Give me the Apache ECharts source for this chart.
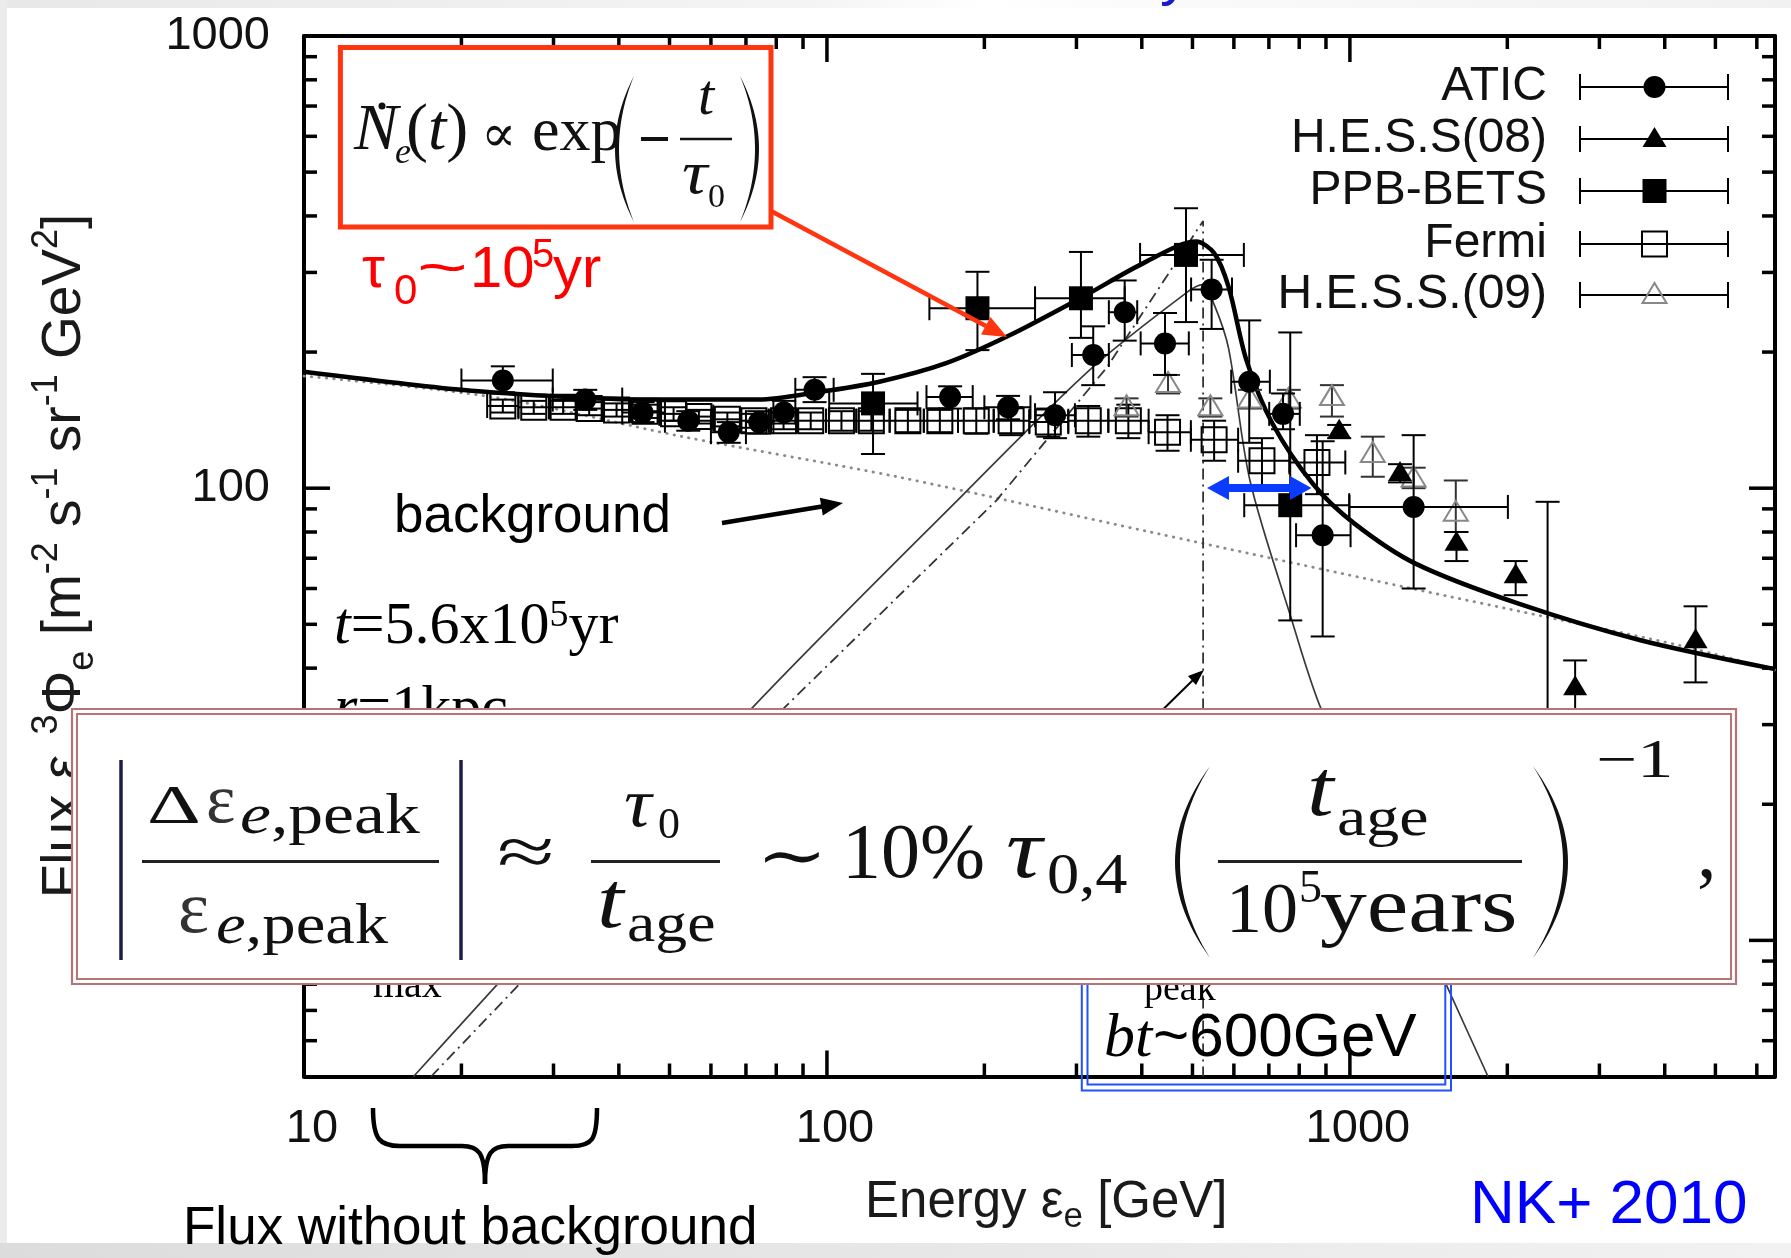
<!DOCTYPE html>
<html><head><meta charset="utf-8">
<script src="https://cdn.jsdelivr.net/npm/echarts@6/dist/echarts.min.js"></script>
<style>html,body{margin:0;padding:0;background:#fff}#c{width:1791px;height:1258px}</style>
</head><body><div id="c"></div>
<script>
// ---------- axis ranges & ticks ----------
const X_MIN = 10, X_MAX = 6500, Y_MIN = 5, Y_MAX = 1000;
const xTickLabels = [10, 100, 1000];
const yTickLabels = [10, 100, 1000];
const xMajorTicks = [100, 1000];
const xMinorTicks = [20,30,40,50,60,70,80,90,200,300,400,500,600,700,800,900,2000,3000,4000,5000,6000];
const yMajorTicks = [10, 100];
const yMinorTicks = [6,7,8,9,20,30,40,50,60,70,80,90,200,300,400,500,600,700,800,900];

// ---------- model curves (energy GeV, flux) ----------
const totalE = [10,20,32,45,74,96,126,169,222,305,408,508,550,586,634,711,851,1019,1335,2095,3595,6500];
const totalF = [181,165,159,157,157,163,172,189,217,263,317,351,331,279,192,139,102,83.6,68.1,55.6,46.1,39.8];
const bgE = [10,23,53,136,415,1312,2376,4305,6500];
const bgF = [177,159,130,106,80,60,51.9,44.8,39.6];
const srcE = [16.2,71.3,183,322,494,522,550,586,644,771,883,1523,1837];
const srcF = [5.0,32.3,97.3,185,274,282,255,204,104,51.9,32.3,8.05,5.0];
const burstE = [17.5,82,211,343,524,524];
const burstF = [5,32.3,94,185,390,5];

// ---------- data: [E, F, Elow, Ehigh, Flow, Fhigh] ----------
const aticData = [
 [24.0,173,20.0,29.9,163,186],[34.5,157,29.9,40.6,149,165],[44.4,147,40.6,49.0,140,155],
 [54.3,141,49.0,60.0,134,148],[64.9,133,60.0,70.0,126,140],[74.2,140,70.0,79.0,132,148],
 [82.7,147,79.0,87.0,139,156],[94.7,165,87.0,103,155,176],[172,159,155,190,150,168],
 [222,151,200,245,142,160],[273,145,250,298,129,163],[323,197,294,346,169,228],
 [371,245,346,392,212,288],[443,209,398,492,178,244],[544,275,497,595,225,320],
 [642,172,593,703,126,235],[745,146,701,802,135,162],[887,78.7,789,1003,47,127],
 [1324,90.9,998,2005,60,131],[2388,28,2000,2850,10,93.3]
];
const hess08Data = [
 [954,134,954,954,129,138],[1247,108,1247,1247,103,113],[1599,75.7,1599,1599,69,80],
 [2075,64.2,2075,2075,58,69],[2696,36.3,2696,2696,31,41.6],[4582,46.1,4582,4582,37.2,54.8]
];
const ppbData = [
 [122.5,154,101,149,119,179],[194,250,157,250,202,301],[306,263,250,371,215,333],
 [486,328,397,627,233,416],[769,91.7,628,997,51,221]
];
const fermiData = [
 [24.0,152,22.4,25.7,147,157],[27.5,151,25.7,29.4,146,156],[31.3,151,29.4,33.2,146,156],
 [35.1,150,33.2,37.3,145,155],[39.6,149,37.3,42.2,144,154],[44.9,148,42.2,47.8,143,153],
 [50.9,146,47.8,53.8,141,151],[56.9,144,53.8,60.6,139,149],[64.5,142,60.6,68.4,137,147],
 [72.5,141,68.4,77.4,136,146],[82.6,141,77.4,87.7,135,147],[93.1,141,87.7,99.6,135,147],
 [106.6,141,99.6,113.8,134,148],[121.6,141,113.8,131.8,134,148],[142.8,141,131.8,153.2,133,149],
 [164.4,141,153.2,178.1,133,149],[193,141,178.1,208.4,132,150],[225,141,208.4,243.8,131,151],
 [265,140,243.8,289.4,130,150],[316,141,289.4,345.2,130,152],[377,141,345.2,412.2,129,153],
 [448,133,412.2,496.5,121,145],[550,128,496.5,611.3,115,141],[679,115,611.3,766.3,101,129],
 [865,114,766.3,980,97,131]
];
const hess09Data = [
 [374,151,374,374,144,158],[449,170,449,449,162,178],[541,151,541,541,144,158],
 [644,157,644,644,150,165],[764,157,764,764,150,165],[924,159,924,924,144,169],
 [1106,119,1106,1106,106,130],[1324,105,1324,1324,100,111],[1594,88.2,1594,1594,80,104]
];
const legendNames = ['ATIC','H.E.S.S(08)','PPB-BETS','Fermi','H.E.S.S.(09)'];

// ---------- helpers ----------
const SANS = '"Liberation Sans", Arial, sans-serif';
const SERIF = '"Liberation Serif", "Times New Roman", "DejaVu Serif", serif';
function zip(a,b){return a.map((v,i)=>[v,b[i]]);}
const CAP = 12;
function markerEl(kind, cx, cy){
  switch(kind){
    case 'circle': return {type:'circle',shape:{cx:cx,cy:cy,r:11},style:{fill:'#000',stroke:'none'}};
    case 'square': return {type:'rect',shape:{x:cx-12,y:cy-12,width:24,height:24},style:{fill:'#000',stroke:'none'}};
    case 'osquare': return {type:'rect',shape:{x:cx-12.5,y:cy-12.5,width:25,height:25},style:{fill:'none',stroke:'#000',lineWidth:2}};
    case 'triangle': return {type:'polygon',shape:{points:[[cx,cy-12],[cx-12,cy+8],[cx+12,cy+8]]},style:{fill:'#000',stroke:'none'}};
    case 'otriangle': return {type:'polygon',shape:{points:[[cx,cy-12],[cx-12,cy+8],[cx+12,cy+8]]},style:{fill:'none',stroke:'#888',lineWidth:2}};
  }
}
function errSeries(name, data, kind, barColor, z){
  return {
    type:'custom', name:name, data:data, z:z, silent:true, encode:{x:0,y:1},
    renderItem:function(params, api){
      const E=api.value(0),F=api.value(1),El=api.value(2),Eh=api.value(3),Fl=api.value(4),Fh=api.value(5);
      const p=api.coord([E,F]);
      const st={stroke:barColor,lineWidth:2,fill:'none'};
      const ch=[];
      if(El!==Eh){
        const a=api.coord([El,F]), b=api.coord([Eh,F]);
        ch.push({type:'line',shape:{x1:a[0],y1:p[1],x2:b[0],y2:p[1]},style:st});
        ch.push({type:'line',shape:{x1:a[0],y1:p[1]-CAP,x2:a[0],y2:p[1]+CAP},style:st});
        ch.push({type:'line',shape:{x1:b[0],y1:p[1]-CAP,x2:b[0],y2:p[1]+CAP},style:st});
      }
      if(Fl!==Fh){
        const a=api.coord([E,Fl]), b=api.coord([E,Fh]);
        ch.push({type:'line',shape:{x1:p[0],y1:a[1],x2:p[0],y2:b[1]},style:st});
        ch.push({type:'line',shape:{x1:p[0]-CAP,y1:a[1],x2:p[0]+CAP,y2:a[1]},style:st});
        ch.push({type:'line',shape:{x1:p[0]-CAP,y1:b[1],x2:p[0]+CAP,y2:b[1]},style:st});
      }
      ch.push(markerEl(kind,p[0],p[1]));
      return {type:'group',children:ch};
    }
  };
}
function tickSeries(vals, isX, len){
  return {
    type:'custom', silent:true, z:4, encode:{x:0,y:1},
    data: vals.map(v => isX ? [v, 100] : [100, v]),
    renderItem:function(params, api){
      const st={stroke:'#000',lineWidth:3.5};
      if(isX){
        const v=api.value(0); const b=api.coord([v,Y_MIN]); const t=api.coord([v,Y_MAX]);
        return {type:'group',children:[
          {type:'line',shape:{x1:b[0],y1:b[1],x2:b[0],y2:b[1]-len},style:st},
          {type:'line',shape:{x1:t[0],y1:t[1],x2:t[0],y2:t[1]+len},style:st}]};
      } else {
        const v=api.value(1); const l=api.coord([X_MIN,v]); const r=api.coord([X_MAX,v]);
        return {type:'group',children:[
          {type:'line',shape:{x1:l[0],y1:l[1],x2:l[0]+len,y2:l[1]},style:st},
          {type:'line',shape:{x1:r[0],y1:r[1],x2:r[0]-len,y2:r[1]},style:st}]};
      }
    }
  };
}
function isPow10(v){const l=Math.log10(v);return Math.abs(l-Math.round(l))<1e-6;}
function T(x,B,text,size,family,opt){
  opt=opt||{};
  const el={type:'text',x:x,y:B-0.35*size,z:opt.z||61,
    style:{text:text,fill:opt.color||'#111',font:(opt.italic?'italic ':'')+size+'px '+family,
      align:opt.align||'left',verticalAlign:'middle'}};
  if(opt.scaleX){el.scaleX=opt.scaleX;}
  return el;
}
function L(x1,y1,x2,y2,color,w,z){return {type:'line',z:z,shape:{x1:x1,y1:y1,x2:x2,y2:y2},style:{stroke:color,lineWidth:w}};}
function poly(pts,fill,z){return {type:'polygon',z:z,shape:{points:pts},style:{fill:fill}};}
function quad(p0,c,p2,n){const o=[];for(let i=0;i<=n;i++){const t=i/n,u=1-t;o.push([u*u*p0[0]+2*u*t*c[0]+t*t*p2[0],u*u*p0[1]+2*u*t*c[1]+t*t*p2[1]]);}return o;}
function paren(xEnd,yTop,yBot,cOut,cIn,z){
  const ym=(yTop+yBot)/2;
  const a=quad([xEnd,yTop],[cOut,ym],[xEnd,yBot],30);
  const b=quad([xEnd,yBot],[cIn,ym],[xEnd,yTop],30);
  return poly(a.concat(b),'#111',z);
}
function bez(x1,y1,c1x,c1y,c2x,c2y,x2,y2,w,z){return {type:'bezierCurve',z:z,shape:{x1:x1,y1:y1,cpx1:c1x,cpy1:c1y,cpx2:c2x,cpy2:c2y,x2:x2,y2:y2},style:{stroke:'#000',lineWidth:w,fill:'none'}};}

// ---------- graphic overlays ----------
const G = [];
G.push({type:'rect',z:0,shape:{x:0,y:0,width:1791,height:8},style:{fill:new echarts.graphic.LinearGradient(0,0,1,0,[{offset:0,color:'#e8e8e8'},{offset:0.45,color:'#f4f4f4'},{offset:0.55,color:'#ffffff'},{offset:0.66,color:'#fafafa'},{offset:1,color:'#f1f1f1'}])}});
G.push({type:'rect',z:0,shape:{x:0,y:0,width:7,height:1258},style:{fill:'#ebebeb'}});
G.push({type:'rect',z:0,shape:{x:0,y:1243,width:1791,height:15},style:{fill:new echarts.graphic.LinearGradient(0,0,1,0,[{offset:0,color:'#dcdcdc'},{offset:1,color:'#f2f2f2'}])}});
G.push({type:'text',z:1,x:1160,y:-23,style:{text:'y',fill:'#1a1acc',font:'60px '+SANS,align:'left',verticalAlign:'middle'}});

// axis titles
G.push({type:'text',z:20,x:65,y:556,rotation:Math.PI/2,style:{
  text:'{m|Flux ε}{s|e}{p|3}{m|Φ}{s|e}{m| [m}{p|-2}{m| s}{p|-1}{m| sr}{p|-1}{m| GeV}{p|2}{m|]}',
  align:'center',verticalAlign:'middle',
  rich:{m:{fontSize:55,fontFamily:SANS,fill:'#1a1a1a',lineHeight:72},
        p:{fontSize:36,fontFamily:SANS,fill:'#1a1a1a',lineHeight:38,verticalAlign:'top'},
        s:{fontSize:36,fontFamily:SANS,fill:'#1a1a1a',lineHeight:38,verticalAlign:'bottom'}}}});
G.push({type:'text',z:20,x:865,y:1203,style:{
  text:'{m|Energy ε}{s|e}{m| [GeV]}',align:'left',verticalAlign:'middle',
  rich:{m:{fontSize:51,fontFamily:SANS,fill:'#1a1a1a',lineHeight:64},
        s:{fontSize:35,fontFamily:SANS,fill:'#1a1a1a',lineHeight:34,verticalAlign:'bottom'}}}});

// legend
const legendKinds = ['circle','triangle','square','osquare','otriangle'];
const legendRowY = [87,139,191,244,295];
legendNames.forEach((nm,i)=>{
  const y=legendRowY[i];
  G.push({type:'text',z:40,x:1547,y:y,style:{text:nm,fill:'#111',font:'48px '+SANS,align:'right',verticalAlign:'middle'}});
  G.push(L(1580,y,1728,y,'#000',2,40));
  G.push(L(1580,y-13,1580,y+13,'#000',2,40));
  G.push(L(1728,y-13,1728,y+13,'#000',2,40));
  const m=markerEl(legendKinds[i],1654.5,y); m.z=41; G.push(m);
});

// red box formula
G.push({type:'rect',z:60,shape:{x:340.4,y:47.4,width:430.6,height:179.6},style:{fill:'#fff',stroke:'#ff3510',lineWidth:5}});
G.push(T(354,155,'N',66,SERIF,{italic:true}));
G.push({type:'circle',z:61,shape:{cx:382,cy:106,r:3.5},style:{fill:'#111'}});
G.push(T(395,166,'e',36,SERIF,{italic:true}));
G.push({type:'text',z:61,x:406,y:155-23,style:{text:'{u|(}{i|t}{u|)}',align:'left',verticalAlign:'middle',
  rich:{u:{fontSize:66,fontFamily:SERIF,fill:'#111'},i:{fontSize:66,fontFamily:SERIF,fontStyle:'italic',fill:'#111'}}}});
G.push({type:'text',z:61,x:481,y:137,style:{text:'∝',fill:'#111',font:'52px '+SERIF,align:'left',verticalAlign:'middle'}});
G.push(T(532,155,'exp',62,SERIF));
G.push(paren(634,76,222,596,604,61));
G.push(L(641,139,668,139,'#111',4,61));
G.push(L(680,139,732,139,'#111',2.5,61));
G.push(T(706,119,'t',58,SERIF,{italic:true,align:'center'}));
G.push(T(682,198,'τ',62,SERIF,{italic:true,scaleX:1.15}));
G.push(T(708,210,'0',34,SERIF));
G.push(paren(740,76,222,778,770,61));
// red arrow
G.push(L(771,211,986,326,'#ff3510',4.5,45));
G.push(poly([[1007,337],[981,334.5],[990.5,316.9]],'#ff3510',45));
G.push(T(362,291,'τ',58,SANS,{color:'#ff0000',z:45}));
G.push(T(394,307,'0',42,SANS,{color:'#ff0000',z:45}));
G.push(T(417,291,'~',58,SANS,{color:'#ff0000',z:45,scaleX:1.5}));
G.push(T(470,291,'10',58,SANS,{color:'#ff0000',z:45}));
G.push(T(532,270,'5',40,SANS,{color:'#ff0000',z:45}));
G.push(T(553,291,'yr',58,SANS,{color:'#ff0000',z:45}));

// background label + arrow
G.push(T(394,536,'background',53,SANS,{color:'#000',z:45}));
G.push(L(722,523,822,506.5,'#000',4.5,45));
G.push(poly([[843,503],[822.8,515.5],[819.8,497.7]],'#000',45));

// blue double arrow
G.push(poly([[1207,488],[1229,476],[1229,484],[1290,484],[1290,476],[1311.5,488],[1290,500],[1290,492],[1229,492],[1229,500]],'#0a3cff',45));
// small arrow to the cutoff line
G.push(L(1140,732,1193,680,'#000',2,30));
G.push(poly([[1204,670],[1196,685.1],[1188,676.1]],'#000',30));

// parameters partly hidden behind formula box
G.push({type:'text',z:30,x:334,y:648-21,style:{text:'{i|t}{m|=5.6x10}{p|5}{m|yr}',align:'left',verticalAlign:'middle',
  rich:{i:{fontSize:60,fontFamily:SERIF,fontStyle:'italic',fill:'#000',lineHeight:60},m:{fontSize:60,fontFamily:SERIF,fill:'#000',lineHeight:60},
        p:{fontSize:38,fontFamily:SERIF,fill:'#000',lineHeight:38,verticalAlign:'top'}}}});
G.push({type:'text',z:30,x:334,y:731-21,style:{text:'{i|r}{m|=1kpc}',align:'left',verticalAlign:'middle',
  rich:{i:{fontSize:60,fontFamily:SERIF,fontStyle:'italic',fill:'#000'},m:{fontSize:60,fontFamily:SERIF,fill:'#000'}}}});
G.push(T(334,987,'E',60,SERIF,{italic:true,color:'#000',z:30}));
G.push(T(373,1000,'max',40,SERIF,{color:'#000',z:30}));
G.push(T(450,988,'~10TeV',60,SERIF,{color:'#000',z:30}));
// blue box
G.push({type:'rect',z:30,shape:{x:1081.8,y:900,width:369.2,height:190.5},style:{fill:'none',stroke:'#2050ff',lineWidth:2}});
G.push({type:'rect',z:30,shape:{x:1087.5,y:905,width:357.8,height:179.5},style:{fill:'none',stroke:'#2050ff',lineWidth:2}});
G.push(T(1102,987,'E',60,SERIF,{italic:true,color:'#000',z:30}));
G.push(T(1144,1003,'peak',38,SERIF,{color:'#000',z:30}));
G.push(T(1232,987,'~ 1/',60,SANS,{color:'#000',z:30}));
G.push(T(1104,1061,'bt',62,SERIF,{italic:true,color:'#000',z:30}));
G.push(T(1153,1061,'~600GeV',62,SANS,{color:'#000',z:30}));

// big formula box
G.push({type:'rect',z:60,shape:{x:72,y:709,width:1664,height:275},style:{fill:'#fff',stroke:'#b87474',lineWidth:2.2}});
G.push({type:'rect',z:60,shape:{x:77,y:714,width:1654,height:265},style:{fill:'none',stroke:'#b87474',lineWidth:2}});
G.push(L(121,760,121,960,'#1c1c48',3.5,61));
G.push(T(147,828,'Δ',54,SERIF,{scaleX:1.55}));
G.push(T(206,828,'ε',70,SERIF,{color:'#333'}));
G.push({type:'text',z:61,x:240,y:838-20,scaleX:1.2,style:{text:'{i|e}{u|,peak}',align:'left',verticalAlign:'middle',
  rich:{i:{fontSize:58,fontFamily:SERIF,fontStyle:'italic',fill:'#111'},u:{fontSize:58,fontFamily:SERIF,fill:'#111'}}}});
G.push(L(142,861.5,439,861.5,'#222',3,61));
G.push(T(178,938,'ε',74,SERIF,{color:'#333'}));
G.push({type:'text',z:61,x:216,y:948-20,scaleX:1.15,style:{text:'{i|e}{u|,peak}',align:'left',verticalAlign:'middle',
  rich:{i:{fontSize:58,fontFamily:SERIF,fontStyle:'italic',fill:'#111'},u:{fontSize:58,fontFamily:SERIF,fill:'#111'}}}});
G.push(L(461,760,461,960,'#1c1c48',3.5,61));
G.push({type:'text',z:61,x:497,y:857,scaleX:1.5,style:{text:'≈',fill:'#111',font:'70px '+SERIF,align:'left',verticalAlign:'middle'}});
G.push(T(624,832,'τ',70,SERIF,{italic:true,scaleX:1.1}));
G.push(T(658,842,'0',44,SERIF));
G.push(L(591,861.5,720,861.5,'#222',3,61));
G.push(T(597,934,'t',80,SERIF,{italic:true,scaleX:1.2}));
G.push(T(627,946,'age',54,SERIF,{scaleX:1.18}));
G.push({type:'text',z:61,x:756,y:861,scaleX:1.3,style:{text:'∼',fill:'#111',font:'66px '+SERIF,align:'left',verticalAlign:'middle'}});
G.push(T(842,884,'10%',78,SERIF));
G.push(T(1006,884,'τ',84,SERIF,{italic:true,scaleX:1.2}));
G.push(T(1047,898,'0,4',56,SERIF,{scaleX:1.15}));
G.push(paren(1210,766,958,1140,1150,61));
G.push(T(1307,822,'t',80,SERIF,{italic:true,scaleX:1.2}));
G.push(T(1337,840,'age',54,SERIF,{scaleX:1.22}));
G.push(L(1218,861.5,1522,861.5,'#222',3,61));
G.push(T(1226,938,'10',72,SERIF));
G.push(T(1299,906,'5',46,SERIF));
G.push(T(1320,938,'years',78,SERIF,{scaleX:1.2}));
G.push(paren(1533,766,958,1603,1593,61));
G.push(T(1596,782,'−1',54,SERIF,{scaleX:1.35}));
G.push(T(1697,884,',',78,SERIF));

// brace + caption + credit
G.push(bez(373,1108,373,1140,380,1146,400,1146,4.5,20));
G.push(L(400,1146,462,1146,'#000',4.5,20));
G.push(bez(462,1146,478,1146,485,1152,485,1184,4.5,20));
G.push(bez(485,1184,485,1152,492,1146,508,1146,4.5,20));
G.push(L(508,1146,572,1146,'#000',4.5,20));
G.push(bez(572,1146,592,1146,597,1140,597,1108,4.5,20));
G.push(T(183,1248,'Flux without background',53,SANS,{color:'#000',z:20}));
G.push(T(1470,1228,'NK+ 2010',62,SANS,{color:'#0000ff',z:20}));

// ---------- chart ----------
const chart = echarts.init(document.getElementById('c'), null, {renderer:'canvas', width:1791, height:1258});
const axisLineStyle = {show:true, lineStyle:{color:'#000', width:4}};
const option = {
  animation:false,
  backgroundColor:'#ffffff',
  grid:{left:304, right:16, top:36, bottom:181.5},
  xAxis:[
    {type:'log', logBase:10, min:X_MIN, max:X_MAX, position:'bottom',
     axisLine:axisLineStyle, axisTick:{show:false}, splitLine:{show:false}, minorTick:{show:false},
     axisLabel:{show:true, margin:29, fontSize:47, fontFamily:SANS, color:'#111', padding:[0,0,0,16],
       formatter:function(v){return (isPow10(v) && xTickLabels.indexOf(Math.round(v))>=0)?String(Math.round(v)):'';}}},
    {type:'log', logBase:10, min:X_MIN, max:X_MAX, position:'top',
     axisLine:axisLineStyle, axisTick:{show:false}, splitLine:{show:false}, axisLabel:{show:false}}
  ],
  yAxis:[
    {type:'log', logBase:10, min:Y_MIN, max:Y_MAX, position:'left',
     axisLine:axisLineStyle, axisTick:{show:false}, splitLine:{show:false}, minorTick:{show:false},
     axisLabel:{show:true, margin:34, fontSize:47, fontFamily:SANS, color:'#111',
       formatter:function(v){return (isPow10(v) && yTickLabels.indexOf(Math.round(v))>=0)?String(Math.round(v)):'';}}},
    {type:'log', logBase:10, min:Y_MIN, max:Y_MAX, position:'right',
     axisLine:axisLineStyle, axisTick:{show:false}, splitLine:{show:false}, axisLabel:{show:false}}
  ],
  series:[
    tickSeries(xMajorTicks, true, 26),
    tickSeries(xMinorTicks, true, 13),
    tickSeries(yMajorTicks, false, 26),
    tickSeries(yMinorTicks, false, 13),
    {type:'line', name:'background', data:zip(bgE,bgF), symbol:'none', smooth:0.3, silent:true, z:2,
     lineStyle:{color:'#8a8a8a', width:2.8, type:[0.5,7], cap:'round'}},
    {type:'line', name:'source', data:zip(srcE,srcF), symbol:'none', smooth:0.3, silent:true, z:2,
     lineStyle:{color:'#3a3a3a', width:1.7}},
    {type:'line', name:'burst', data:zip(burstE,burstF), symbol:'none', smooth:false, silent:true, z:2,
     lineStyle:{color:'#333', width:1.8, type:[11,5,2,5]}},
    {type:'line', name:'total', data:zip(totalE,totalF), symbol:'none', smooth:0.3, silent:true, z:3,
     lineStyle:{color:'#000', width:4.5}},
    errSeries('Fermi', fermiData, 'osquare', '#000', 5),
    errSeries('H.E.S.S.(09)', hess09Data, 'otriangle', '#333', 5),
    errSeries('H.E.S.S(08)', hess08Data, 'triangle', '#000', 6),
    errSeries('PPB-BETS', ppbData, 'square', '#000', 6),
    errSeries('ATIC', aticData, 'circle', '#000', 7)
  ],
  graphic: G
};
chart.setOption(option);
</script></body></html>
